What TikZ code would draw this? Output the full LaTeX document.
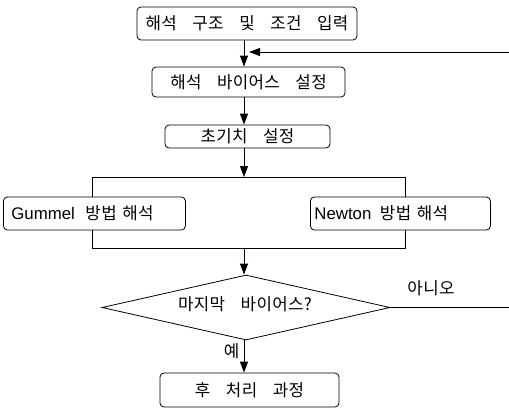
\documentclass[tikz,border=0pt]{standalone}
\usepackage{fontspec}
\setmainfont{Noto Sans CJK KR}[WordSpace=3.8,LetterSpace=2]
\newfontfamily\lat{Liberation Sans}
\usetikzlibrary{shapes.geometric,arrows.meta}
\begin{document}
\begin{tikzpicture}[x=1pt,y=-1pt,
  every node/.style={font=\fontsize{16.8}{18}\selectfont},
  box/.style={draw,rounded corners=4pt,line width=0.8pt,inner sep=0pt,align=center},
  sidebox/.style={draw,rounded corners=4pt,line width=0.8pt,inner sep=0pt,minimum height=33pt,anchor=west,text width=#1,align=left},
  arr/.style={line width=0.8pt,-{Triangle[length=11pt,width=8pt]}},
  ln/.style={line width=0.8pt}]
\useasboundingbox (0,0) rectangle (509,408);
\coordinate (spine) at (244,0);
\node[box,minimum width=220pt,minimum height=33pt] (b1) at (247,23.5) {해석 구조 및 조건 입력};
\node[box,minimum width=193pt,minimum height=30pt] (b2) at (248.5,82) {해석 바이어스 설정};
\node[box,minimum width=165pt,minimum height=23pt] (b3) at (247.5,136.5) {초기치 설정};
\node[sidebox=182pt] (g) at (3,213.5) {\hspace{8pt}{\lat Gummel}\hspace{5pt} 방법 해석};
\node[sidebox=180pt] (n) at (310,213.5) {\hspace{4pt}{\lat Newton}\hspace{3pt} 방법 해석};
\node[draw,diamond,line width=0.8pt,inner sep=0pt,minimum width=288pt,minimum height=65pt] (d) at (246,307.5) {};
\node (dt) at (245,304) {마지막 바이어스?};
\node[box,minimum width=179pt,minimum height=34pt] (b6) at (249.5,390) {후 처리 과정};
\coordinate (split) at (244,177);
\coordinate (gl) at (92,177);
\coordinate (nr) at (405,177);
\coordinate (jl) at (92,248);
\coordinate (jr) at (405,248);
\coordinate (merge) at (244,248);
\coordinate (fb1) at (512,307.5);
\coordinate (fb2) at (512,52);
\coordinate (fbend) at (249,52);
\draw[arr] (b1.south -| spine) -- (b2.north -| spine);
\draw[arr] (b2.south -| spine) -- (b3.north -| spine);
\draw[arr] (b3.south -| spine) -- (split);
\draw[ln] (g.north -| gl) -- (gl) -- (nr) -- (n.north -| nr);
\draw[ln] (g.south -| jl) -- (jl) -- (jr) -- (n.south -| jr);
\draw[arr] (merge) -- (d.north -| merge);
\draw[arr] (d.south -| merge) -- (b6.north -| merge) node[pos=0.35,left=1pt] {예};
\draw[arr] (d.east) -- (fb1) -- (fb2) -- (fbend);
\node (no) at (431,288) {아니오};
\end{tikzpicture}
\end{document}
